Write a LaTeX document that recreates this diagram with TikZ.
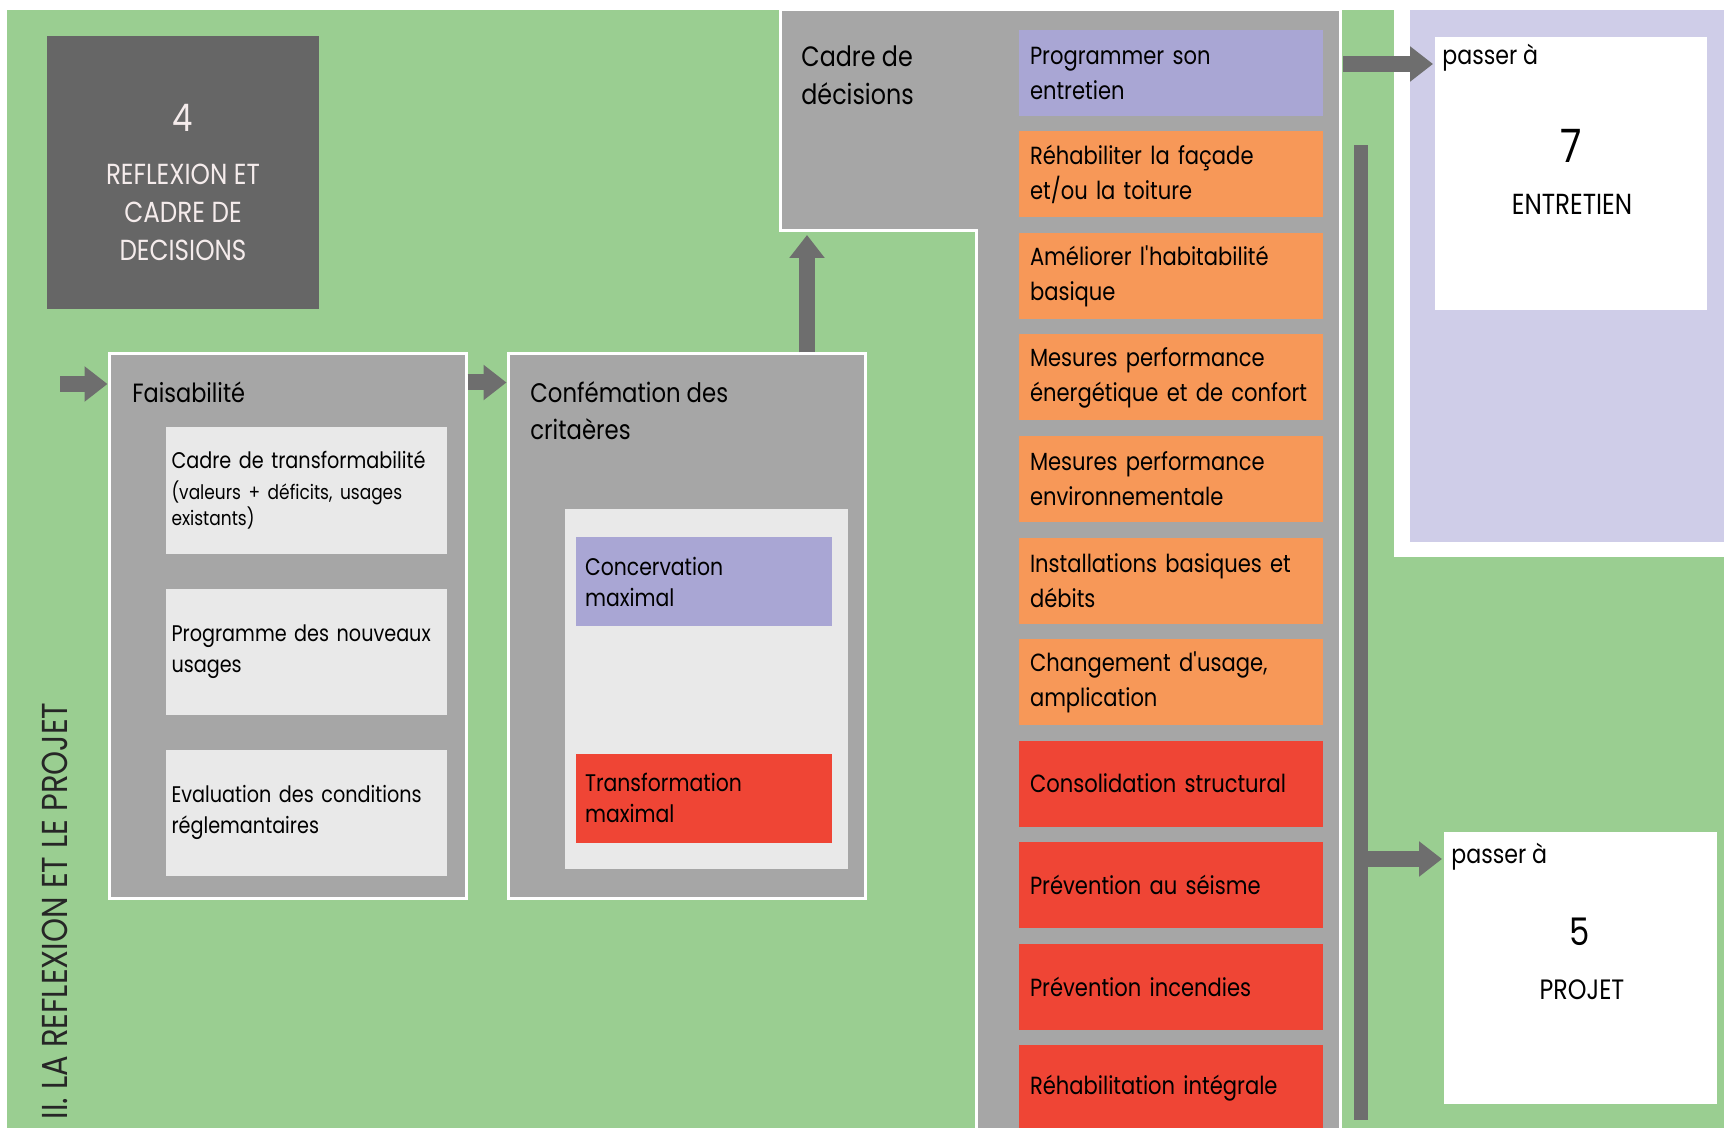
\documentclass[tikz,border=0pt]{standalone}
\usepackage{fontspec}
\setmainfont{Poppins}[FakeStretch=0.85]
\usepackage{tikz}
\usetikzlibrary{arrows.meta, positioning, calc}
\hyphenpenalty=10000
\exhyphenpenalty=10000

\definecolor{fondvert}{RGB}{154,206,145}
\definecolor{grispanneau}{RGB}{166,166,166}
\definecolor{grisclair}{RGB}{233,233,233}
\definecolor{grisfonce}{RGB}{102,102,102}
\definecolor{grisfleche}{RGB}{110,110,110}
\definecolor{lavande}{RGB}{169,166,212}
\definecolor{lavandepale}{RGB}{207,205,232}
\definecolor{orangeboite}{RGB}{247,152,88}
\definecolor{rougeboite}{RGB}{239,69,53}
\definecolor{texteclair}{RGB}{245,236,236}

\begin{document}
\begin{tikzpicture}[
    x=0.5pt, y=-0.5pt,
    panneau/.style={fill=grispanneau, draw=white, line width=1.5pt, inner sep=0},
    cadrebox/.style={fill=grisclair, minimum width=140.5pt, minimum height=63pt, text width=135pt, inner xsep=2.75pt, align=left, font=\fontsize{11.3}{15.5}\selectfont},
    critbox/.style={minimum width=128pt, minimum height=44.5pt, text width=119pt, inner xsep=4.5pt, align=left, font=\fontsize{12}{15.5}\selectfont},
    choix/.style={minimum width=152pt, minimum height=43pt, text width=141pt, inner xsep=5.5pt, align=left, font=\fontsize{12.4}{17.5}\selectfont},
    titrebloc/.style={anchor=north west, inner sep=0, align=left},
    passer/.style={anchor=base west, inner sep=0, font=\fontsize{13}{15}\selectfont},
    fleche/.style={grisfleche, line width=8pt, -{Triangle[length=11.5pt, width=17pt]}},
]
    \useasboundingbox (0,0) rectangle (1724,1128);
    \fill[white] (0,0) rectangle (1724,1128);
    \fill[fondvert] (7,10) rectangle (1724,1128);
    % panneau lavande
    \fill[white] (1394,10) rectangle (1724,557);
    \fill[lavandepale] (1410,10) rectangle (1724,542);

    % etape 4
    \node[fill=grisfonce, minimum width=136pt, minimum height=136.5pt] (etape) at (183,172.5) {};
    \node[text=texteclair, font=\fontsize{19}{19}\selectfont] (etapenum) at (183,118) {4};
    \node[text=texteclair, align=center, font=\fontsize{14.5}{19}\selectfont] (etapetitre) at (183,212) {REFLEXION ET\\CADRE DE\\DECISIONS};

    \node[rotate=90, text=black!85, font=\fontsize{18}{18}\selectfont] (section) at (55,911) {II. LA REFLEXION ET LE PROJET};

    % faisabilite
    \node[panneau, minimum width=178.5pt, minimum height=272pt] (fais) at (287.5,626) {};
    \node[titrebloc, font=\fontsize{13.2}{18.5}\selectfont] (faistitre) at (132,381) {Faisabilité};
    \node[cadrebox] (transfo) at (306.5,490.5) {Cadre de transformabilité\par\vspace{2.5pt}{\fontsize{10}{13}\selectfont (valeurs + déficits, usages\\existants)\par}};
    \node[cadrebox] (programme) at (306.5,652) {Programme des nouveaux\\usages};
    \node[cadrebox] (evaluation) at (306.5,812.5) {Evaluation des conditions\\réglemantaires};

    \coordinate (entree) at (60,384);
    \draw[fleche] (entree) -- (entree -| fais.west);

    % confermation
    \node[panneau, minimum width=178.5pt, minimum height=272pt] (conf) at (686.5,626) {};
    \node[titrebloc, font=\fontsize{13.4}{18.5}\selectfont] (conftitre) at (530,381) {Confémation des\\critaères};
    \node[fill=grisclair, minimum width=141.5pt, minimum height=180pt] (criteres) at (706.5,689) {};
    \node[critbox, fill=lavande] (concervation) at (704,581.5) {Concervation\\maximal};
    \node[critbox, fill=rougeboite] (transformation) at (704,798) {Transformation\\maximal};

    \draw[fleche] ([yshift=-15pt]fais.north east) -- ([yshift=-15pt]conf.north west);

    % cadre de decisions
    \draw[panneau] (780,10) -- (1340,10) -- (1340,1140) -- (976,1140) -- (976,231) -- (780,231) -- cycle;
    \node[titrebloc, font=\fontsize{14}{19}\selectfont] (cadretitre) at (801,45) {Cadre de\\décisions};

    \coordinate (cadrebas) at (807,235);
    \draw[fleche] (conf.north -| cadrebas) -- (cadrebas);

    \node[choix, fill=lavande] (programmer) at (1171,73) {Programmer son\\entretien};
    \node[choix, fill=orangeboite] (facade) at (1171,174.5) {Réhabiliter la façade\\et/ou la toiture};
    \node[choix, fill=orangeboite] (habitabilite) at (1171,276) {Améliorer l\textquotesingle habitabilité\\basique};
    \node[choix, fill=orangeboite] (energie) at (1171,377.5) {Mesures performance\\énergétique et de confort};
    \node[choix, fill=orangeboite] (environnement) at (1171,479) {Mesures performance\\environnementale};
    \node[choix, fill=orangeboite] (installations) at (1171,580.5) {Installations basiques et\\débits};
    \node[choix, fill=orangeboite] (usage) at (1171,682) {Changement d\textquotesingle usage,\\amplication};
    \node[choix, fill=rougeboite] (structure) at (1171,783.5) {Consolidation structural};
    \node[choix, fill=rougeboite] (seisme) at (1171,885) {Prévention au séisme};
    \node[choix, fill=rougeboite] (incendies) at (1171,986.5) {Prévention incendies};
    \node[choix, fill=rougeboite] (integrale) at (1171,1088) {Réhabilitation intégrale};

    \node[fill=grisfleche, minimum width=7pt, minimum height=487.5pt, inner sep=0] (rail) at (1360.5,632.5) {};

    % vers 7
    \node[fill=white, minimum width=136pt, minimum height=136.5pt] (boite7) at (1571,173.5) {};
    \node[passer] (passer7) at (1442,65) {passer à};
    \node[font=\fontsize{23}{23}\selectfont] (num7) at (1571,146) {7};
    \node[font=\fontsize{14.5}{15}\selectfont] (entretien) at (1572,204) {ENTRETIEN};
    \coordinate (vers7) at (1433,64);
    \draw[fleche] ([xshift=10pt]programmer.east |- vers7) -- (vers7);

    % vers 5
    \node[fill=white, minimum width=136.5pt, minimum height=136pt] (boite5) at (1580.5,968) {};
    \node[passer] (passer5) at (1451,863) {passer à};
    \node[font=\fontsize{19}{19}\selectfont] (num5) at (1580,932) {5};
    \node[font=\fontsize{14}{15}\selectfont] (projet) at (1582,990) {PROJET};
    \coordinate (vers5) at (1442,859);
    \draw[fleche] (rail.center |- vers5) -- (vers5);
\end{tikzpicture}
\end{document}
